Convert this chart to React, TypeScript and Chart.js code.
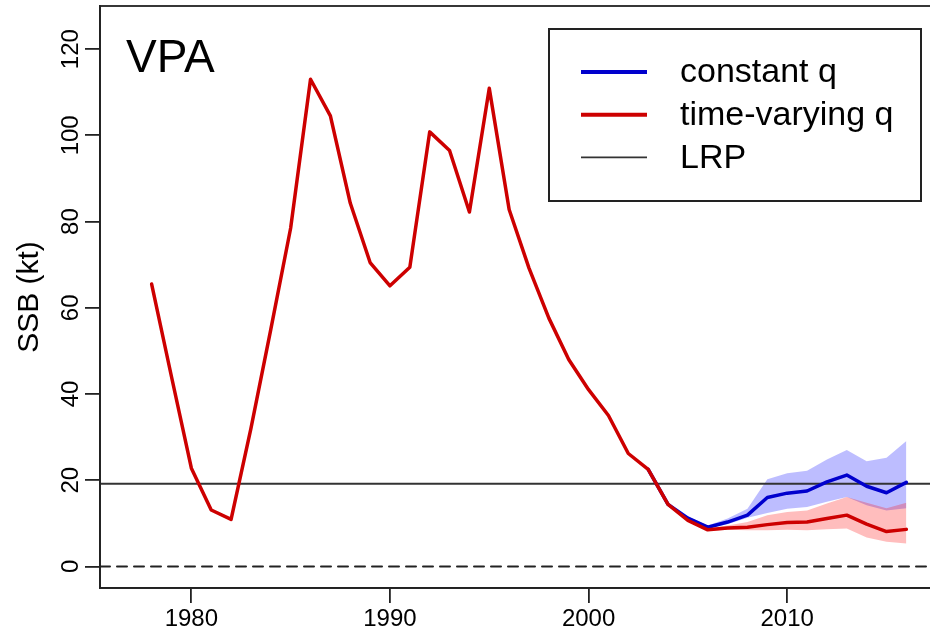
import React, { useEffect, useRef } from "react";
import { Chart, registerables } from "chart.js";

Chart.register(...registerables);

// ---- data ----
const years = [
  1978, 1979, 1980, 1981, 1982, 1983, 1984, 1985, 1986, 1987, 1988, 1989, 1990,
  1991, 1992, 1993, 1994, 1995, 1996, 1997, 1998, 1999, 2000, 2001, 2002, 2003,
  2004, 2005, 2006, 2007, 2008, 2009, 2010, 2011, 2012, 2013, 2014, 2015, 2016,
];
const timeVaryingQ = [
  65.5, 44, 22.8, 13.1, 10.9, 32, 55, 78.5, 113, 104.5, 84.3, 70.5, 65.1,
  69.4, 100.8, 96.5, 82.2, 110.9, 82.8, 69.2, 57.6, 48, 41, 35, 26.2, 22.5,
  14.4, 10.7, 8.5, 8.9, 9.1, 9.7, 10.2, 10.3, 11.1, 11.9, 9.8, 8.1, 8.6,
];
const constantYears = [2003, 2004, 2005, 2006, 2007, 2008, 2009, 2010, 2011, 2012, 2013, 2014, 2015, 2016];
const constantQ = [22.5, 14.4, 11.2, 9.1, 10.3, 11.9, 16.0, 17.0, 17.5, 19.6, 21.2, 18.6, 17.1, 19.5];

const bandYears = [2005, 2006, 2007, 2008, 2009, 2010, 2011, 2012, 2013, 2014, 2015, 2016];
const constantUpper = [11.6, 9.5, 11.1, 13.4, 20.2, 21.6, 22.2, 24.8, 27.0, 24.4, 25.2, 29.1];
const constantLower = [10.6, 8.8, 9.8, 11.3, 12.4, 13.4, 13.8, 15.0, 16.1, 14.2, 13.0, 13.5];
const varyingUpper = [11.0, 8.8, 9.5, 10.3, 11.9, 12.6, 13.0, 14.6, 16.1, 14.8, 13.5, 14.8];
const varyingLower = [10.4, 8.2, 8.5, 8.4, 8.4, 8.5, 8.4, 8.6, 8.8, 6.7, 5.7, 5.3];

const LRP = 19.2;
const xTicks = [1980, 1990, 2000, 2010];
const yTicks = [0, 20, 40, 60, 80, 100, 120];
const xMin = 1975.4;
const xMax = 2018.6;
const yMin = -5;
const yMax = 130;

const seriesLabels = ["constant q", "time-varying q", "LRP"];
const panelTitle = "VPA";
const yTitle = "SSB (kt)";

const BLUE = "#0000CD";
const RED = "#CD0000";
const FONT = "'Liberation Sans', Arial, Helvetica, sans-serif";

const pts = (xs: number[], ys: number[]) => xs.map((x, i) => ({ x, y: ys[i] }));

export default function App() {
  const ref = useRef<HTMLCanvasElement | null>(null);

  useEffect(() => {
    if (!ref.current) return;

    const decor = {
      id: "decor",
      afterDraw(chart: any) {
        const { ctx, chartArea, scales } = chart;
        ctx.save();
        // frame
        ctx.strokeStyle = "#222";
        ctx.lineWidth = 1.8;
        ctx.strokeRect(chartArea.left, chartArea.top, chartArea.right - chartArea.left, chartArea.bottom - chartArea.top);

        // y tick labels (rotated like R)
        ctx.fillStyle = "#000";
        ctx.font = `24px ${FONT}`;
        ctx.textAlign = "center";
        ctx.textBaseline = "middle";
        for (const v of yTicks) {
          const y = scales.y.getPixelForValue(v);
          ctx.save();
          ctx.translate(71, y);
          ctx.rotate(-Math.PI / 2);
          ctx.fillText(String(v), 0, 0);
          ctx.restore();
        }

        // panel title
        ctx.font = `46px ${FONT}`;
        ctx.textAlign = "left";
        ctx.textBaseline = "alphabetic";
        ctx.fillText(panelTitle, 126, 72);

        // legend
        const bx = 549, by = 29, bw = 372, bh = 172;
        ctx.fillStyle = "#fff";
        ctx.fillRect(bx, by, bw, bh);
        ctx.strokeStyle = "#222";
        ctx.lineWidth = 2;
        ctx.strokeRect(bx, by, bw, bh);
        const rows = [
          { label: seriesLabels[0], color: BLUE, w: 4 },
          { label: seriesLabels[1], color: RED, w: 4 },
          { label: seriesLabels[2], color: "#333", w: 1.8 },
        ];
        ctx.font = `34px ${FONT}`;
        ctx.textBaseline = "middle";
        rows.forEach((r, i) => {
          const ry = 72 + i * 42.7;
          ctx.strokeStyle = r.color;
          ctx.lineWidth = r.w;
          ctx.beginPath();
          ctx.moveTo(581, ry);
          ctx.lineTo(647, ry);
          ctx.stroke();
          ctx.fillStyle = "#000";
          ctx.fillText(r.label, 680, ry + 1);
        });
        ctx.restore();
      },
    };

    const chart = new Chart(ref.current, {
      type: "line",
      data: {
        datasets: [
          {
            label: "constant q lower",
            data: pts(bandYears, constantLower),
            borderWidth: 0,
            pointRadius: 0,
            fill: false,
            order: 20,
          },
          {
            label: "constant q upper",
            data: pts(bandYears, constantUpper),
            borderWidth: 0,
            pointRadius: 0,
            backgroundColor: "rgba(0,0,255,0.26)",
            fill: { target: 0 },
            order: 20,
          },
          {
            label: "time-varying q lower",
            data: pts(bandYears, varyingLower),
            borderWidth: 0,
            pointRadius: 0,
            fill: false,
            order: 19,
          },
          {
            label: "time-varying q upper",
            data: pts(bandYears, varyingUpper),
            borderWidth: 0,
            pointRadius: 0,
            backgroundColor: "rgba(255,0,0,0.26)",
            fill: { target: 2 },
            order: 19,
          },
          {
            label: "zero",
            data: [{ x: xMin, y: 0 }, { x: xMax, y: 0 }],
            borderColor: "#222",
            borderWidth: 2,
            borderDash: [10, 7],
            pointRadius: 0,
            fill: false,
            order: 10,
          },
          {
            label: seriesLabels[2],
            data: [{ x: xMin, y: LRP }, { x: xMax, y: LRP }],
            borderColor: "#333",
            borderWidth: 2,
            pointRadius: 0,
            fill: false,
            order: 9,
          },
          {
            label: seriesLabels[0],
            data: pts(constantYears, constantQ),
            borderColor: BLUE,
            borderWidth: 3.5,
            pointRadius: 0,
            fill: false,
            order: 8,
          },
          {
            label: seriesLabels[1],
            data: pts(years, timeVaryingQ),
            borderColor: RED,
            borderWidth: 3.5,
            pointRadius: 0,
            fill: false,
            order: 7,
          },
        ],
      },
      options: {
        animation: false,
        responsive: false,
        devicePixelRatio: 1,
        layout: { padding: { top: 6, right: 2, left: 0, bottom: 0 } },
        plugins: {
          legend: { display: false },
          tooltip: { enabled: false },
        },
        elements: { line: { tension: 0, borderJoinStyle: "round", borderCapStyle: "round" } },
        scales: {
          x: {
            type: "linear",
            min: xMin,
            max: xMax,
            afterBuildTicks: (s: any) => {
              s.ticks = xTicks.map((v) => ({ value: v }));
            },
            afterFit: (s: any) => {
              s.height = 44;
            },
            grid: {
              display: true,
              drawOnChartArea: false,
              drawTicks: true,
              tickLength: 15,
              color: "#222",
              lineWidth: 1.8,
            },
            border: { display: true, color: "#222", width: 1.8 },
            ticks: {
              color: "#000",
              font: { family: FONT, size: 24 },
              padding: 2,
              maxRotation: 0,
              autoSkip: false,
              callback: (v: any) => String(v),
            },
          },
          y: {
            type: "linear",
            min: yMin,
            max: yMax,
            afterBuildTicks: (s: any) => {
              s.ticks = yTicks.map((v) => ({ value: v }));
            },
            afterFit: (s: any) => {
              s.width = 100;
            },
            grid: {
              display: true,
              drawOnChartArea: false,
              drawTicks: true,
              tickLength: 15,
              color: "#222",
              lineWidth: 1.8,
            },
            border: { display: true, color: "#222", width: 1.8 },
            ticks: { display: false },
            title: {
              display: true,
              text: yTitle,
              color: "#000",
              font: { family: FONT, size: 30 },
              padding: { top: 12, bottom: 0 },
            },
          },
        },
      },
      plugins: [decor],
    } as any);

    return () => chart.destroy();
  }, []);

  return (
    <div
      style={{
        position: "fixed",
        left: 0,
        top: 0,
        width: 930,
        height: 632,
        overflow: "hidden",
        background: "#fff",
      }}
    >
      <canvas ref={ref} width={960} height={632} style={{ display: "block" }} />
    </div>
  );
}
